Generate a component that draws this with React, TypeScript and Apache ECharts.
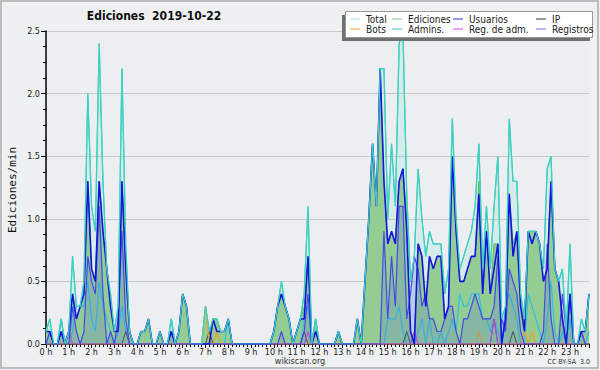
import React, { useEffect, useRef } from "react";
import * as echarts from "echarts";

// 10-minute slots, index 0..143 (0:00 .. 23:50), values in edits/min
const totalVals = [
  0.1,0.2,0,0,0.2,0,0.1,0.7,0.3,0.3,
  0.5,2.0,1.1,0.9,2.4,1.3,0.6,0.4,0.1,0.3,
  2.2,0.8,0.1,0,0,0.1,0.1,0.2,0,0,
  0.1,0,0,0.2,0,0.1,0.4,0.3,0,0,
  0,0,0.3,0.1,0.2,0.2,0.1,0.1,0.2,0,
  0,0,0,0,0,0,0,0,0,0,
  0.1,0.3,0.5,0.3,0.2,0,0.1,0.2,0.4,1.1,
  0,0.2,0,0,0,0,0,0.1,0,0,
  0,0,0.2,0,0.5,1.0,1.6,1.1,2.2,2.2,
  1.0,1.6,1.1,2.4,2.5,1.2,0.5,0.7,1.4,1.0,
  0.7,0.9,0.8,0.8,0.8,0.4,0.6,1.8,1.0,0.6,
  0.7,0.8,0.9,1.1,1.6,0.6,1.1,0.6,1.1,1.5,
  0.2,0.3,1.8,1.3,1.3,0.4,0.2,0.9,0.9,0.9,
  0.8,0.6,1.4,1.5,0.6,0.5,0.6,0.1,0.8,0,
  0,0.2,0.1,0.4,
];
const edicionesVals = [
  0.1,0.1,0,0,0.1,0,0.1,0.4,0.2,0.3,
  0.4,1.3,0.6,0.5,1.3,0.9,0.6,0.3,0.1,0.1,
  1.3,0.6,0.1,0,0,0.1,0.1,0.2,0,0,
  0.1,0,0,0.1,0,0.1,0.4,0.3,0,0,
  0,0,0.3,0.1,0.2,0.2,0.1,0.1,0.2,0,
  0,0,0,0,0,0,0,0,0,0,
  0.1,0.3,0.4,0.3,0.2,0,0.1,0.2,0.3,0.7,
  0,0.2,0,0,0,0,0,0.1,0,0,
  0,0,0.2,0,0.5,1.0,1.6,1.1,2.2,1.3,
  0.8,0.9,0.8,1.3,1.4,1.0,0.1,0,0.8,0.7,
  0.3,0.7,0.6,0.7,0.7,0.2,0.3,1.5,0.9,0.5,
  0.5,0.6,0.7,0.7,1.3,0.4,0.9,0.4,0.8,0.8,
  0,0.2,1.2,0.8,0.9,0.3,0.2,0.9,0.9,0.9,
  0.8,0.5,0.6,1.3,0.6,0.5,0.2,0,0.4,0,
  0,0.1,0.1,0.4,
];
const usuariosVals = [
  0.1,0.1,0,0,0.1,0,0.1,0.4,0.2,0.3,
  0.4,1.3,0.6,0.5,1.3,0.9,0.6,0.3,0.1,0.1,
  1.3,0.6,0.1,0,0,0.1,0.1,0.2,0,0,
  0.1,0,0,0.1,0,0.1,0.4,0.3,0,0,
  0,0,0,0,0.2,0.1,0.1,0.1,0.2,0,
  0,0,0,0,0,0,0,0,0,0,
  0.1,0.3,0.4,0.3,0.2,0,0.1,0.2,0.2,0.7,
  0,0.1,0,0,0,0,0,0.1,0,0,
  0,0,0.2,0,0.5,1.0,1.6,1.1,2.2,1.3,
  0.8,0.9,0.8,1.3,1.4,0.9,0.1,0,0.8,0.7,
  0.3,0.7,0.6,0.7,0.7,0.2,0.3,1.5,0.9,0.5,
  0.5,0.6,0.7,0.7,1.2,0.4,0.9,0.4,0.6,0.8,
  0,0.2,1.2,0.7,0.9,0.3,0.1,0.9,0.8,0.9,
  0.8,0.5,0.6,1.3,0.6,0.5,0.2,0,0.4,0,
  0,0.1,0.1,0.4,
];
const ipVals = [
  0,0,0,0,0,0,0,0,0,0,
  0,0,0,0,0,0,0,0,0,0,
  0,0.1,0,0,0,0,0,0,0,0,
  0,0,0,0,0,0,0,0,0,0,
  0,0,0,0.1,0,0,0,0,0,0,
  0,0,0,0,0,0,0,0,0,0,
  0,0,0,0,0,0,0,0,0.1,0,
  0,0.1,0,0,0,0,0,0,0,0,
  0,0,0,0,0,0,0,0,0,0,
  0,0,0,0,0,0.1,0,0,0,0,
  0,0,0,0,0,0,0,0,0,0,
  0,0,0,0,0,0,0,0,0.2,0,
  0,0,0,0.1,0,0,0,0,0,0,
  0,0,0,0,0,0,0,0,0,0,
  0,0,0,0,
];
const botsVals = [
  0,0,0,0,0,0,0,0,0,0,
  0,0,0,0,0,0,0,0,0,0,
  0,0,0,0,0,0,0,0,0,0,
  0,0,0,0,0,0,0,0,0,0,
  0,0,0.3,0,0,0.1,0,0,0,0,
  0,0,0,0,0,0,0,0,0,0,
  0,0,0,0,0,0,0,0,0,0,
  0,0,0,0,0,0,0,0,0,0,
  0,0,0,0,0,0,0,0,0,0,
  0,0,0,0,0,0,0,0,0,0,
  0,0,0,0,0,0,0,0,0,0,
  0,0,0,0,0.1,0,0,0,0,0,
  0,0,0,0,0,0,0.1,0,0.1,0,
  0,0,0,0,0,0,0,0,0,0,
  0,0,0,0,
];
const adminsVals = [
  0,0.1,0,0,0.2,0,0,0.1,0.3,0.3,
  0.3,0.5,0.2,0.1,0.5,0.3,0.2,0.1,0,0.1,
  0.3,0.1,0,0,0,0,0,0,0,0,
  0,0,0,0.2,0,0,0,0,0,0,
  0,0,0,0,0,0,0,0,0.2,0,
  0,0,0,0,0,0,0,0,0,0,
  0.1,0.3,0.4,0.3,0.2,0,0,0,0.2,0.3,
  0,0.2,0,0,0,0,0,0,0,0,
  0,0,0,0,0,0,0,0,0,0,
  0.2,0.2,0.2,0.3,0.1,0,0,0,0.1,0.2,
  0,0.2,0,0,0.1,0,0.1,0.2,0.1,0.4,
  0.3,0.3,0.4,0.4,0.4,0.2,0.2,0.1,0.2,0.1,
  0,0.3,0.4,0.3,0.2,0,0,0.4,0.3,0.2,
  0.1,0,0.2,0.5,0.1,0,0.1,0,0.2,0,
  0,0.1,0,0.1,
];
const regAdmVals = [
  0,0,0,0,0,0,0.1,0,0,0,
  0,0,0,0,0,0,0,0,0,0,
  0,0,0,0,0,0,0,0,0,0,
  0,0,0,0,0,0,0,0,0,0,
  0,0,0,0,0,0,0,0,0,0,
  0,0,0,0,0,0,0,0,0,0,
  0,0,0,0,0,0,0,0,0,0.1,
  0,0,0,0,0,0,0,0,0,0,
  0,0,0,0,0,0,0,0,0,0,
  0,0,0,0,0,0,0,0.1,0,0,
  0,0,0,0,0,0,0,0,0,0,
  0,0,0,0,0,0,0,0,0.2,0,
  0,0,0,0,0,0,0,0,0,0,
  0,0,0,0,0,0,0,0,0,0,
  0,0.1,0,0,
];
const registrosVals = [
  0,0.1,0,0,0.1,0,0,0.3,0.1,0,
  0.1,0.7,0.5,0.4,1.1,0.4,0,0.1,0,0.2,
  0.9,0.2,0,0,0,0,0,0,0,0,
  0,0,0,0.1,0,0,0,0,0,0,
  0,0,0,0,0,0,0,0,0,0,
  0,0,0,0,0,0,0,0,0,0,
  0,0,0.1,0,0,0,0,0,0.1,0.4,
  0,0,0,0,0,0,0,0,0,0,
  0,0,0,0,0,0,0,0,0,0.9,
  0.2,0.7,0.3,1.1,1.1,0.2,0.4,0.7,0.6,0.3,
  0.4,0.2,0.2,0.1,0.1,0.2,0.3,0.3,0.1,0,
  0.2,0.2,0.3,0.4,0.3,0.2,0.2,0.2,0.3,0.7,
  0.2,0.1,0.6,0.5,0.4,0.1,0,0,0,0,
  0,0.1,0.8,0.2,0,0,0.4,0.1,0.4,0,
  0,0.1,0,0,
];

const yTicks = [0, 0.5, 1.0, 1.5, 2.0, 2.5];
const legendItems = [
  { name: "Total", color: "#a8e8dc" },
  { name: "Ediciones", color: "#88cc88" },
  { name: "Usuarios", color: "#3030d8" },
  { name: "IP", color: "#333333" },
  { name: "Bots", color: "#f0a030" },
  { name: "Admins.", color: "#30c0e0" },
  { name: "Reg. de adm.", color: "#cc44dd" },
  { name: "Registros", color: "#7070ee" },
];

const FONT = "DejaVu Sans Condensed, DejaVu Sans, sans-serif";

function pairs(arr: number[]) {
  return arr.map((v, i) => [i, v]);
}

export default function App() {
  const ref = useRef<HTMLDivElement>(null);
  useEffect(() => {
    if (!ref.current) return;
    const chart = echarts.init(ref.current, null, { renderer: "svg" });

    const legendCols = [350, 392, 453, 536];
    const legendRows = [19, 29];
    const legendGraphics: any[] = [];
    legendItems.forEach((it, k) => {
      const col = k % 4;
      const row = Math.floor(k / 4);
      const x = legendCols[col];
      const y = legendRows[row];
      legendGraphics.push({
        type: "line",
        shape: { x1: x, y1: y, x2: x + 10, y2: y },
        style: { stroke: it.color, lineWidth: 1 },
        z: 102,
      });
      legendGraphics.push({
        type: "text",
        x: x + 16,
        y: y,
        style: {
          text: it.name,
          fill: "#222",
          font: `10px ${FONT}`,
          textVerticalAlign: "middle",
          verticalAlign: "middle",
        },
        z: 102,
      });
    });

    const line = (name: string, data: number[], color: string, width: number, z: number, area?: string) => ({
      type: "line",
      name,
      data: pairs(data),
      symbol: "none",
      z,
      lineStyle: { color, width },
      itemStyle: { color },
      areaStyle: area ? { color: area, opacity: 1 } : undefined,
    });

    chart.setOption({
      animation: false,
      backgroundColor: "#eff0f1",
      grid: {
        left: 46,
        right: 11,
        top: 31,
        bottom: 26,
        show: true,
        backgroundColor: "#eceef1",
        borderWidth: 0,
      },
      xAxis: {
        type: "value",
        min: 0,
        max: 143,
        interval: 6,
        axisLine: { show: true, lineStyle: { color: "#000", width: 1.5 } },
        axisTick: { show: true, length: 4, lineStyle: { color: "#000", width: 1 } },
        minorTick: { show: true, splitNumber: 6, length: 3, lineStyle: { color: "#000", width: 1 } },
        splitLine: { show: false },
        axisLabel: {
          formatter: (v: number) => `${v / 6} h`,
          fontSize: 9,
          fontFamily: FONT,
          color: "#222",
          margin: 3,
          showMaxLabel: false,
        },
      },
      yAxis: {
        type: "value",
        min: 0,
        max: 2.5,
        interval: 0.5,
        axisLine: { show: true, lineStyle: { color: "#000", width: 1.5 } },
        axisTick: { show: true, length: 5, lineStyle: { color: "#000" } },
        minorTick: { show: true, splitNumber: 4, length: 3, lineStyle: { color: "#000" } },
        splitLine: { show: true, lineStyle: { color: "#c8c8c8", width: 1 } },
        axisLabel: {
          formatter: (v: number) => (yTicks.indexOf(v) >= 0 ? v.toFixed(1) : ""),
          fontSize: 9,
          fontFamily: FONT,
          color: "#222",
          margin: 6,
        },
      },
      series: [
        line("Total", totalVals, "#40d0c0", 1.2, 2, "rgba(80,215,195,0.13)"),
        line("Ediciones", edicionesVals, "#55bb55", 1, 3, "#93cd93"),
        line("Registros", registrosVals, "#4848e8", 1.2, 6, "rgba(90,120,210,0.25)"),
        line("Admins.", adminsVals, "#30c0e0", 1.2, 5),
        line("IP", ipVals, "#444444", 1, 5),
        line("Bots", botsVals, "#f0a030", 1.2, 5),
        line("Reg. de adm.", regAdmVals, "#cc44dd", 1.2, 5),
        line("Usuarios", usuariosVals, "#1414e0", 1.6, 7),
        { ...line("TotalLine", totalVals, "#40d0c0", 1.2, 8) },
      ],
      graphic: [
        {
          type: "rect",
          shape: { x: 1, y: 1, width: 597, height: 367 },
          style: { fill: "none", stroke: "#aaaaaa", lineWidth: 1.5 },
          silent: true,
          z: 100,
        },
        {
          type: "text",
          x: 154,
          y: 16,
          style: {
            text: "Ediciones  2019-10-22",
            fill: "#111",
            font: `bold 12px ${FONT}`,
            textAlign: "center",
            align: "center",
            verticalAlign: "middle",
            textVerticalAlign: "middle",
          },
          z: 100,
        },
        {
          type: "text",
          x: 12,
          y: 190,
          rotation: Math.PI / 2,
          style: {
            text: "Ediciones/min",
            fill: "#111",
            font: "11px DejaVu Sans Mono, monospace",
            textAlign: "center",
            align: "center",
            verticalAlign: "middle",
            textVerticalAlign: "middle",
          },
          z: 100,
        },
        {
          type: "text",
          x: 300,
          y: 361,
          style: {
            text: "wikiscan.org",
            fill: "#333",
            font: `9px ${FONT}`,
            textAlign: "center",
            align: "center",
            verticalAlign: "middle",
            textVerticalAlign: "middle",
          },
          z: 100,
        },
        {
          type: "text",
          x: 590,
          y: 362,
          style: {
            text: "CC BY-SA  3.0",
            fill: "#333",
            font: `7px ${FONT}`,
            textAlign: "right",
            align: "right",
            verticalAlign: "middle",
            textVerticalAlign: "middle",
          },
          z: 100,
        },
        {
          type: "rect",
          shape: { x: 342, y: 15, width: 248, height: 26 },
          style: { fill: "#707070" },
          z: 100,
        },
        {
          type: "rect",
          shape: { x: 345.5, y: 11.5, width: 247, height: 26 },
          style: { fill: "#ffffff", stroke: "#999999", lineWidth: 1 },
          z: 101,
        },
        ...legendGraphics,
      ],
    });
    return () => chart.dispose();
  }, []);
  return (
    <div
      ref={ref}
      style={{ position: "fixed", left: 0, top: 0, width: 600, height: 370 }}
    />
  );
}
